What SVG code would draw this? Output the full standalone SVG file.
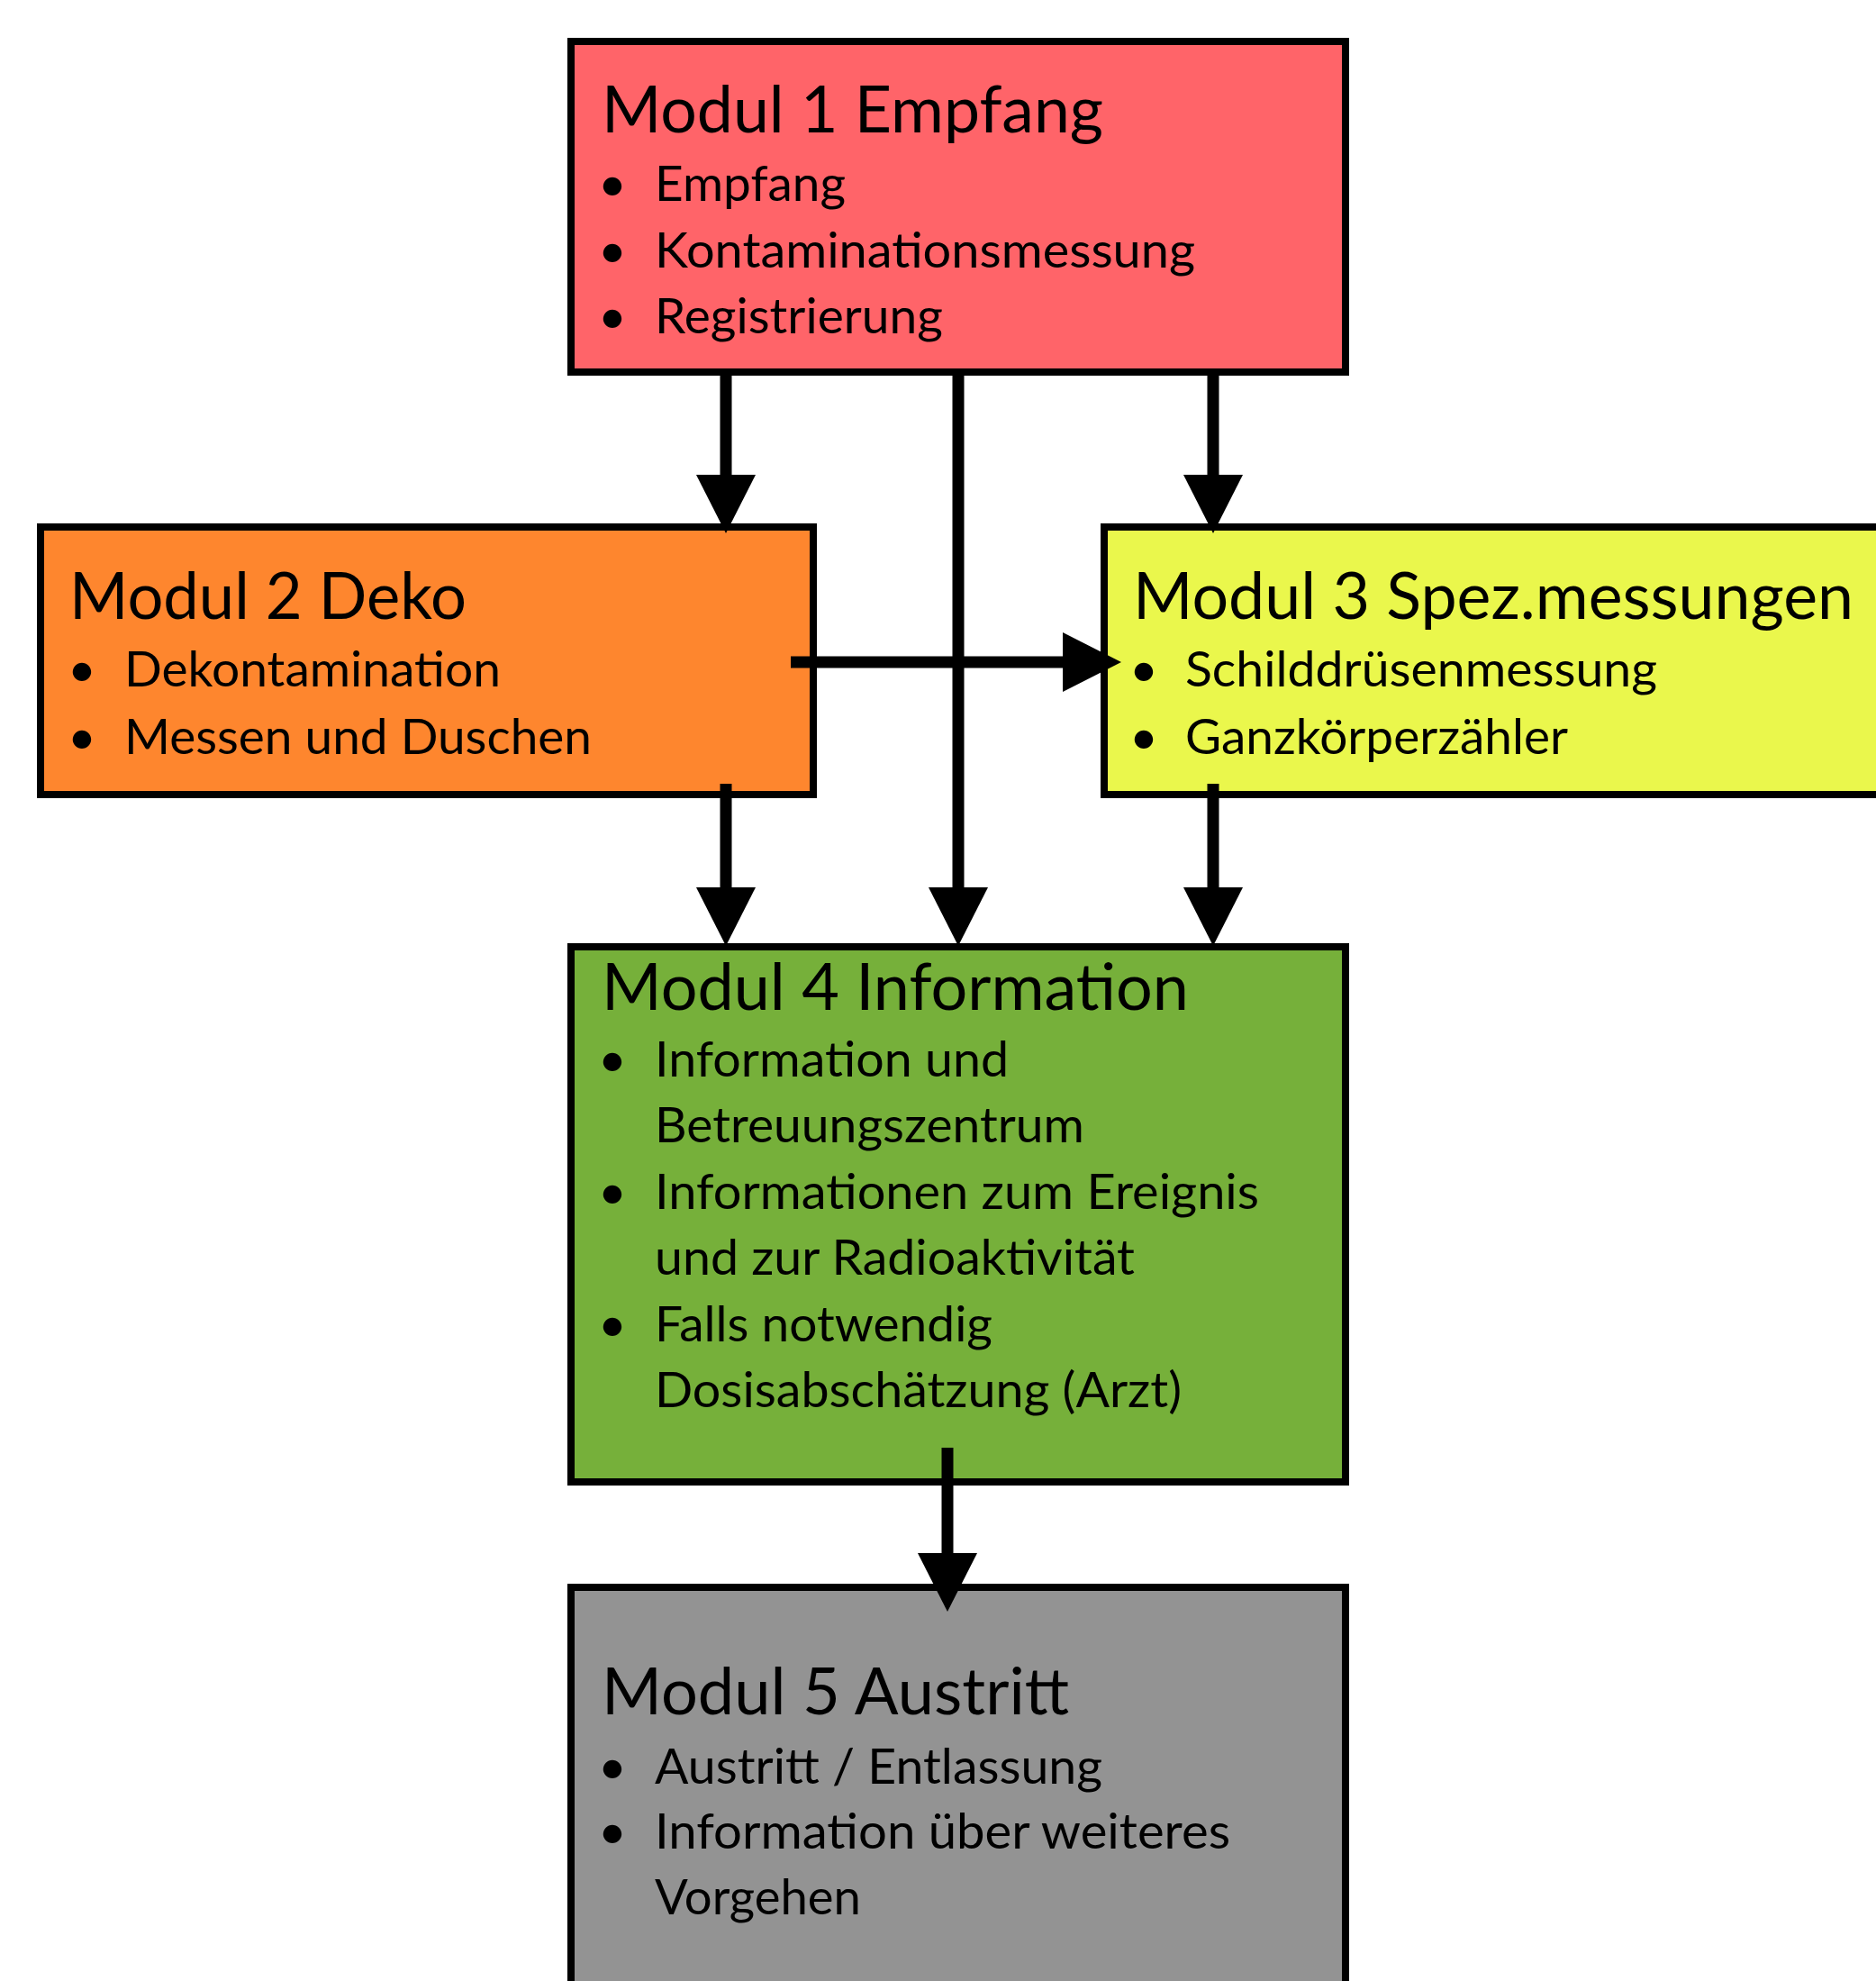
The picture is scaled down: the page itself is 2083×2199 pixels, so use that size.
<svg xmlns="http://www.w3.org/2000/svg" width="2083" height="2199" viewBox="0 0 2083 2199">
<style>
.box{stroke:#000;stroke-width:8}
.t{font-family:Lato,"Liberation Sans",sans-serif;font-size:71px;fill:#000}
.b{font-family:Lato,"Liberation Sans",sans-serif;font-size:55px;fill:#000}
.con{stroke:#000;stroke-width:13;fill:none}
</style>
<defs>
<marker id="ah" markerUnits="userSpaceOnUse" viewBox="0 0 65 66" markerWidth="65" markerHeight="66" refX="0" refY="33" orient="auto">
<path d="M0,0 L65,33 L0,66 z" fill="#000"/>
</marker>
</defs>
<rect width="2083" height="2199" fill="#fff"/>
<g id="modul1">
<rect class="box" x="634" y="46" width="860" height="367" fill="#FF6469"/>
<text class="t" x="668" y="147" textLength="557" lengthAdjust="spacingAndGlyphs">Modul 1 Empfang</text>
<text class="b" x="664" y="223">•</text><text class="b" x="727" y="223" textLength="212" lengthAdjust="spacingAndGlyphs">Empfang</text>
<text class="b" x="664" y="297">•</text><text class="b" x="727" y="297" textLength="600" lengthAdjust="spacingAndGlyphs">Kontaminationsmessung</text>
<text class="b" x="664" y="370">•</text><text class="b" x="727" y="370" textLength="320" lengthAdjust="spacingAndGlyphs">Registrierung</text>
</g>
<g id="modul2">
<rect class="box" x="45" y="585" width="858" height="297" fill="#FE862E"/>
<text class="t" x="77" y="687" textLength="441" lengthAdjust="spacingAndGlyphs">Modul 2 Deko</text>
<text class="b" x="75" y="762">•</text><text class="b" x="138" y="762" textLength="418" lengthAdjust="spacingAndGlyphs">Dekontamination</text>
<text class="b" x="75" y="837">•</text><text class="b" x="138" y="837" textLength="519" lengthAdjust="spacingAndGlyphs">Messen und Duschen</text>
</g>
<g id="modul3">
<rect class="box" x="1226" y="585" width="900" height="297" fill="#EAF74C"/>
<text class="t" x="1258" y="687" textLength="800" lengthAdjust="spacingAndGlyphs">Modul 3 Spez.messungen</text>
<text class="b" x="1254" y="762">•</text><text class="b" x="1316" y="762" textLength="524" lengthAdjust="spacingAndGlyphs">Schilddrüsenmessung</text>
<text class="b" x="1254" y="837">•</text><text class="b" x="1316" y="837" textLength="425" lengthAdjust="spacingAndGlyphs">Ganzkörperzähler</text>
</g>
<g id="modul4">
<rect class="box" x="634" y="1051" width="860" height="594" fill="#76B03A"/>
<text class="t" x="668" y="1121" textLength="652" lengthAdjust="spacingAndGlyphs">Modul 4 Information</text>
<text class="b" x="664" y="1195">•</text><text class="b" x="727" y="1195" textLength="393" lengthAdjust="spacingAndGlyphs">Information und</text>
<text class="b" x="727" y="1268" textLength="477" lengthAdjust="spacingAndGlyphs">Betreuungszentrum</text>
<text class="b" x="664" y="1342">•</text><text class="b" x="727" y="1342" textLength="671" lengthAdjust="spacingAndGlyphs">Informationen zum Ereignis</text>
<text class="b" x="727" y="1415" textLength="533" lengthAdjust="spacingAndGlyphs">und zur Radioaktivität</text>
<text class="b" x="664" y="1489">•</text><text class="b" x="727" y="1489" textLength="375" lengthAdjust="spacingAndGlyphs">Falls notwendig</text>
<text class="b" x="727" y="1562" textLength="585" lengthAdjust="spacingAndGlyphs">Dosisabschätzung (Arzt)</text>
</g>
<g id="modul5">
<rect class="box" x="634" y="1762" width="860" height="480" fill="#939393"/>
<text class="t" x="668" y="1903" textLength="519" lengthAdjust="spacingAndGlyphs">Modul 5 Austritt</text>
<text class="b" x="664" y="1980">•</text><text class="b" x="727" y="1980" textLength="497" lengthAdjust="spacingAndGlyphs">Austritt / Entlassung</text>
<text class="b" x="664" y="2052">•</text><text class="b" x="727" y="2052" textLength="639" lengthAdjust="spacingAndGlyphs">Information über weiteres</text>
<text class="b" x="727" y="2125" textLength="229" lengthAdjust="spacingAndGlyphs">Vorgehen</text>
</g>
<g id="connectors">
<line class="con" x1="806" y1="414" x2="806" y2="527" marker-end="url(#ah)"/>
<line class="con" x1="1347" y1="414" x2="1347" y2="527" marker-end="url(#ah)"/>
<line class="con" x1="1064" y1="414" x2="1064" y2="985" marker-end="url(#ah)"/>
<line class="con" x1="806" y1="870" x2="806" y2="985" marker-end="url(#ah)"/>
<line class="con" x1="1347" y1="870" x2="1347" y2="985" marker-end="url(#ah)"/>
<line class="con" x1="878" y1="735" x2="1180" y2="735" marker-end="url(#ah)"/>
<line class="con" x1="1052" y1="1607" x2="1052" y2="1724" marker-end="url(#ah)"/>
</g>
</svg>
